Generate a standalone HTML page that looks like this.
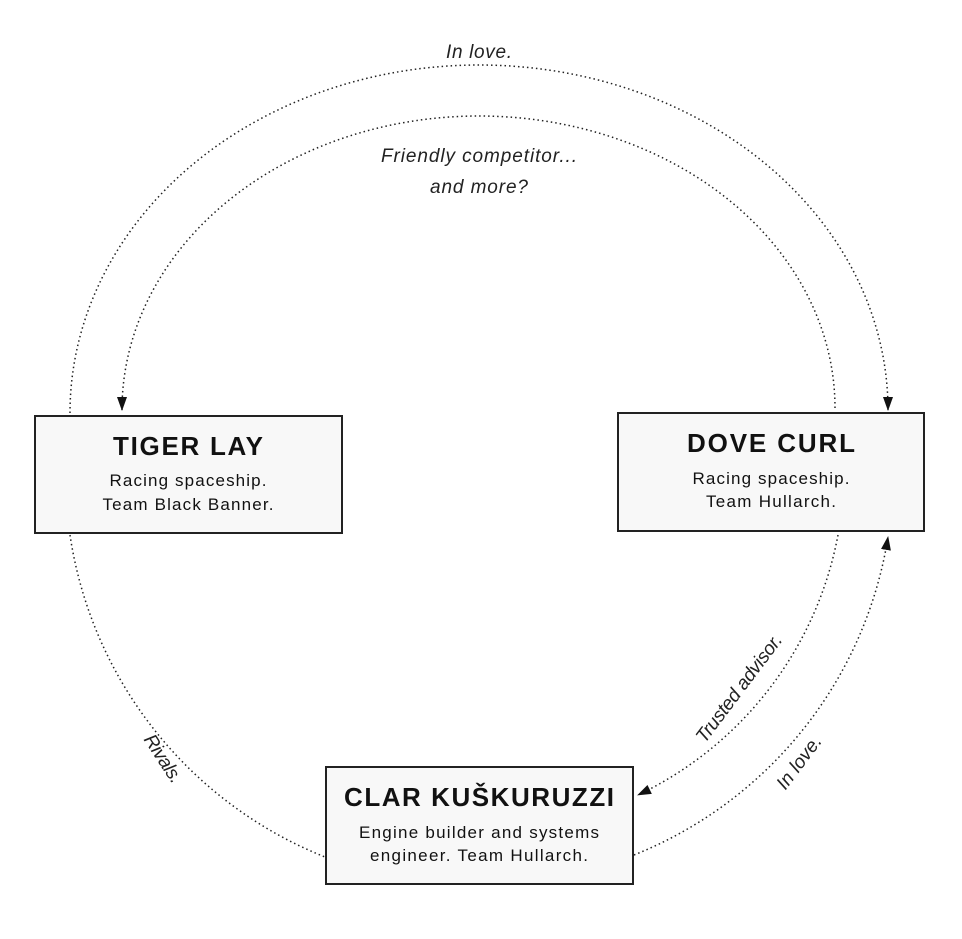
<!DOCTYPE html>
<html><head><meta charset="utf-8"><style>
html,body{margin:0;padding:0;background:#fff;}
svg{display:block;font-family:"Liberation Sans",sans-serif;}
</style></head><body>
<svg width="962" height="939" viewBox="0 0 962 939" xmlns="http://www.w3.org/2000/svg">
<defs>
<marker id="a" viewBox="0 0 14 10" refX="13" refY="5" markerWidth="14" markerHeight="10" markerUnits="userSpaceOnUse" orient="auto">
<path d="M0,0 L14,5 L0,10 z" fill="#111"/></marker>
</defs>
<g fill="none" stroke="#222" stroke-width="1.5" stroke-dasharray="1.5 3">
<path d="M70,413 A409,348 0 0 1 479,65 A409,345 0 0 1 888,410" marker-end="url(#a)"/>
<path d="M835,408 A356,292 0 0 0 479,116 A357,294 0 0 0 122,410" marker-end="url(#a)"/>
<path d="M70,535 A412,412 0 0 0 325,857"/>
<path d="M838,535 A362,362 0 0 1 638,795" marker-end="url(#a)"/>
<path d="M634,855 A412,412 0 0 0 888,537" marker-end="url(#a)"/>
</g>
<g font-style="italic" font-size="19" fill="#222" text-anchor="middle">
<text x="479" y="58" textLength="66">In love.</text>
<text x="479" y="162" textLength="196">Friendly competitor...</text>
<text x="479" y="193" textLength="98">and more?</text>
<text transform="translate(158,762) rotate(57)" textLength="54">Rivals.</text>
<text transform="translate(744,692) rotate(-53)" textLength="130">Trusted advisor.</text>
<text transform="translate(804,766) rotate(-53)" textLength="62">In love.</text>
</g>
<g fill="#f8f8f8" stroke="#222" stroke-width="2">
<rect x="35" y="416" width="307" height="117"/>
<rect x="618" y="413" width="306" height="118"/>
<rect x="326" y="767" width="307" height="117"/>
</g>
<g text-anchor="middle" fill="#111">
<text x="188" y="455" font-size="26" font-weight="bold" textLength="150">TIGER LAY</text>
<text x="188" y="486" font-size="17" textLength="157">Racing spaceship.</text>
<text x="188" y="510" font-size="17" textLength="171">Team Black Banner.</text>
<text x="771" y="452" font-size="26" font-weight="bold" textLength="168">DOVE CURL</text>
<text x="771" y="484" font-size="17" textLength="157">Racing spaceship.</text>
<text x="771" y="507" font-size="17" textLength="130">Team Hullarch.</text>
<text x="479" y="806" font-size="26" font-weight="bold" textLength="270">CLAR KUŠKURUZZI</text>
<text x="479" y="838" font-size="17" textLength="240">Engine builder and systems</text>
<text x="479" y="861" font-size="17" textLength="218">engineer. Team Hullarch.</text>
</g>
</svg>
</body></html>
